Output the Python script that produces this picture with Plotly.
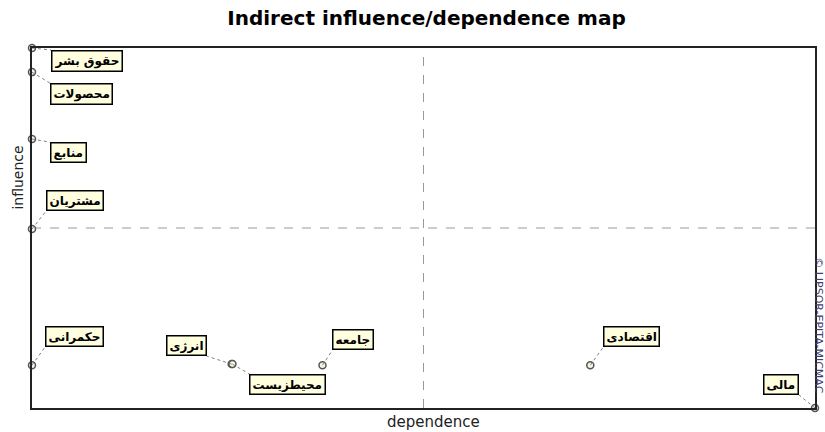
import plotly.graph_objects as go

# ---- data ----
variables = ["حقوق بشر", "محصولات", "منابع", "مشتریان", "حکمرانی",
             "انرژی", "محیطزیست", "جامعه", "اقتصادی", "مالی"]
dependence = [0.0, 0.0, 0.0, 0.0, 0.0, 25.5, 25.6, 37.1, 71.3, 100.0]
influence = [100.0, 93.3, 74.7, 49.7, 11.9, 12.2, 12.2, 11.9, 11.9, 0.0]

title_text = "Indirect influence/dependence map"
x_title = "dependence"
y_title = "influence"
copyright_text = "© LIPSOR-EPITA-MICMAC"

# label placement (pixel offsets from point): (xanchor, yanchor, dx, dy)
label_pos = [
    ("left", "top", 19, -2),
    ("left", "top", 18, -11),
    ("left", "top", 18, -3),
    ("left", "bottom", 14, 18),
    ("left", "bottom", 13, 18),
    ("right", "bottom", -25, 8),
    ("left", "top", 17, -10),
    ("left", "bottom", 10, 15),
    ("left", "bottom", 13, 18),
    ("right", "bottom", -16, 13),
]

xmin, xmax = min(dependence), max(dependence)
ymin, ymax = min(influence), max(influence)
xmid = (xmin + xmax) / 2
ymid = (ymin + ymax) / 2

fig = go.Figure()

shapes = [
    dict(type="line", xref="x", yref="y", x0=xmid, x1=xmid, y0=ymin, y1=ymax,
         line=dict(color="#999999", width=1, dash="dash"), layer="below"),
    dict(type="line", xref="x", yref="y", ysizemode="pixel", yanchor=ymin,
         x0=xmid, x1=xmid, y0=0, y1=-7,
         line=dict(color="#999999", width=1, dash="dash")),
    dict(type="line", xref="x", yref="y", x0=xmin, x1=xmax, y0=ymid, y1=ymid,
         line=dict(color="#999999", width=1, dash="dash"), layer="below"),
]

annotations = []
for name, dx_v, dy_v, (xa, ya, dx, dy) in zip(variables, dependence, influence, label_pos):
    shapes.append(dict(type="line", xref="x", yref="y",
                       xsizemode="pixel", ysizemode="pixel",
                       xanchor=dx_v, yanchor=dy_v,
                       x0=0, y0=0, x1=dx, y1=dy,
                       line=dict(color="#808080", width=1, dash="dot")))
    annotations.append(dict(x=dx_v, y=dy_v, xref="x", yref="y", text="<b>" + name + "</b>",
                            showarrow=False, xanchor=xa, yanchor=ya,
                            xshift=dx, yshift=dy,
                            font=dict(family="DejaVu Sans", size=12, color="black"),
                            bgcolor="#ffffe0", bordercolor="black", borderwidth=1.5,
                            borderpad=2))

fig.add_trace(go.Scatter(
    x=dependence, y=influence, mode="markers",
    marker=dict(size=7, color="#f6f6e6", line=dict(color="#555555", width=1.5)),
    cliponaxis=False, hoverinfo="text", text=variables, showlegend=False))

annotations += [
    dict(text=y_title, xref="paper", yref="paper", x=0, y=0.64, xshift=-14,
         xanchor="center", yanchor="middle",
         textangle=-90, showarrow=False, font=dict(family="DejaVu Sans", size=14, color="#222222")),
    dict(text=x_title, xref="paper", yref="paper", x=0.5, y=0, yshift=-14, xshift=10,
         xanchor="center", yanchor="middle",
         showarrow=False, font=dict(family="DejaVu Sans", size=15, color="#222222")),
    dict(text=copyright_text, xref="paper", yref="paper", x=1, y=0.23, xshift=4,
         xanchor="center", yanchor="middle",
         textangle=90, showarrow=False, font=dict(family="DejaVu Sans", size=11, color="#404070")),
]

fig.update_layout(
    width=825, height=432,
    margin=dict(l=32, r=8, t=48, b=24),
    paper_bgcolor="white", plot_bgcolor="white",
    title=dict(text="<b>" + title_text + "</b>", x=0.517, xanchor="center", y=0.975, yanchor="top",
               font=dict(family="DejaVu Sans", size=20, color="black")),
    xaxis=dict(range=[xmin, xmax], showgrid=False, zeroline=False, showticklabels=False,
               ticks="", showline=True, linecolor="#222222", linewidth=1.5, mirror=True),
    yaxis=dict(range=[ymin, ymax], showgrid=False, zeroline=False, showticklabels=False,
               ticks="", showline=True, linecolor="#222222", linewidth=1.5, mirror=True),
    shapes=shapes,
    annotations=annotations,
)

fig.write_html("out.html", config={"displayModeBar": False},
               post_script="document.body.style.margin='0';document.body.style.overflow='hidden';")
